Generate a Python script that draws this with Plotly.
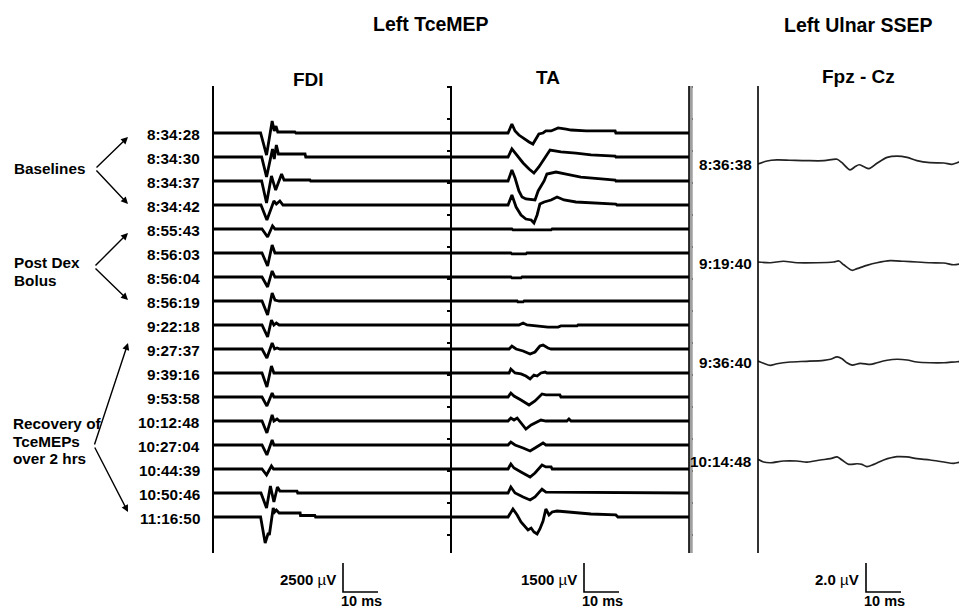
import numpy as np
import plotly.graph_objects as go

# ---------------- data ----------------
mep_times = ["8:34:28", "8:34:30", "8:34:37", "8:34:42", "8:55:43", "8:56:03",
             "8:56:04", "8:56:19", "9:22:18", "9:27:37", "9:39:16", "9:53:58",
             "10:12:48", "10:27:04", "10:44:39", "10:50:46", "11:16:50"]

# FDI traces: time (ms) and amplitude (uV) key points
fdi_ms = [
    [0, 13.6, 15.3, 16.9, 17.5, 18.0, 18.5, 23.4, 23.7, 68],
    [0, 13.9, 15.3, 17.0, 17.5, 18.1, 18.7, 26.3, 26.5, 68],
    [0, 13.9, 15.3, 16.7, 17.9, 19.6, 20.3, 27.7, 27.9, 68],
    [0, 13.7, 15.4, 17.4, 18.1, 19.1, 20.0, 68],
    [0, 14.0, 15.6, 17.0, 17.7, 68],
    [0, 14.0, 15.6, 16.9, 17.7, 68],
    [0, 14.0, 15.6, 16.9, 17.7, 68],
    [0, 14.0, 15.6, 16.9, 17.7, 18.9, 68],
    [0, 14.0, 15.6, 16.7, 17.4, 18.1, 18.9, 68],
    [0, 14.0, 15.4, 16.9, 17.6, 18.3, 19.1, 68],
    [0, 14.0, 15.4, 16.7, 17.4, 68],
    [0, 14.0, 15.4, 16.9, 17.4, 68],
    [0, 14.0, 15.4, 16.9, 17.4, 18.3, 19.0, 68],
    [0, 14.0, 15.4, 16.9, 17.4, 68],
    [0, 14.0, 15.3, 16.7, 17.3, 68],
    [0, 13.7, 15.3, 16.4, 17.4, 18.4, 19.1, 24.0, 24.2, 68],
    [0, 13.6, 14.9, 15.8, 16.1, 17.2, 17.6, 18.1, 18.9, 24.9, 25.0, 29.1, 29.3, 68],
]
fdi_uv = [
    [0, 0, -1900, 1030, 170, 600, 85, 85, 0, 0],
    [0, 0, -1720, 690, -170, 1030, 260, 260, 0, 0],
    [0, 0, -1900, 430, -780, 600, 85, 85, 0, 0],
    [0, 0, -1290, 345, 85, 345, 0, 0],
    [0, 0, -690, 260, 0, 0],
    [0, 0, -1120, 690, 0, 0],
    [0, 0, -860, 520, 0, 0],
    [0, 0, -1210, 690, 85, 0, 0],
    [0, 0, -1030, 430, 0, 170, 0, 0],
    [0, 0, -780, 520, 0, 85, 0, 0],
    [0, 0, -1210, 600, 0, 0],
    [0, 0, -780, 345, 0, 0],
    [0, 0, -1030, 520, 0, 170, 0, 0],
    [0, 0, -860, 430, 0, 0],
    [0, 0, -520, 260, 0, 0],
    [0, 0, -1290, 600, -780, 520, 170, 170, 0, 0],
    [0, 0, -2240, -1380, -1550, 780, 430, 600, 345, 345, 130, 130, 0, 0],
]

# TA traces
ta_ms = [
    [0, 16.3, 17.4, 18.3, 19.4, 20.9, 22.3, 23.4, 24.3, 25.1, 26.3, 27.1, 28.6, 29.7, 30.6, 32.9, 34.3, 38.6, 46.9, 47.1, 68],
    [0, 16.3, 17.4, 18.9, 20.6, 22.3, 23.7, 25.1, 26.6, 28.3, 31.4, 35.7, 40.0, 46.9, 47.1, 68],
    [0, 16.3, 17.4, 18.3, 19.4, 20.3, 21.4, 22.9, 24.0, 24.9, 25.7, 26.6, 27.4, 30.0, 32.9, 37.1, 42.9, 46.9, 47.1, 68],
    [0, 16.3, 17.4, 18.6, 20.0, 21.4, 22.9, 23.7, 24.6, 25.4, 26.6, 28.6, 30.3, 32.3, 35.7, 40.0, 47.1, 47.4, 68],
    [0, 17.4, 17.7, 28.6, 28.9, 68],
    [0, 17.1, 17.4, 21.4, 21.7, 68],
    [0, 17.1, 17.4, 20.0, 20.3, 68],
    [0, 18.9, 19.1, 20.6, 20.9, 68],
    [0, 19.4, 20.6, 21.7, 27.7, 30.6, 31.4, 36.0, 36.3, 68],
    [0, 16.6, 17.4, 18.6, 20.6, 22.6, 24.0, 25.4, 26.3, 27.7, 28.6, 68],
    [0, 16.6, 17.1, 18.3, 20.0, 21.4, 22.6, 23.7, 24.6, 25.7, 26.9, 27.4, 68],
    [0, 16.3, 17.1, 18.0, 20.0, 22.3, 24.0, 25.1, 26.0, 27.1, 31.1, 31.4, 68],
    [0, 16.3, 17.1, 18.0, 18.9, 20.0, 21.4, 22.9, 24.0, 24.9, 25.7, 27.1, 33.1, 33.7, 34.3, 68],
    [0, 16.3, 17.1, 18.3, 20.6, 22.6, 24.0, 25.1, 26.3, 27.1, 68],
    [0, 16.3, 17.1, 18.0, 20.0, 22.6, 24.0, 25.1, 26.0, 27.1, 28.6, 28.9, 68],
    [0, 16.3, 17.1, 18.3, 20.6, 22.6, 24.0, 25.1, 26.0, 27.1, 68],
    [0, 16.3, 17.7, 18.9, 20.0, 21.1, 22.0, 22.9, 23.7, 24.6, 25.4, 26.3, 27.1, 28.0, 28.9, 30.3, 32.9, 35.7, 40.0, 47.1, 47.7, 68],
]
ta_uv = [
    [0, 0, 465, 105, -105, -310, -465, -570, -260, -50, 0, 105, 105, 205, 260, 205, 155, 105, 105, 0, 0],
    [0, 0, 415, 50, -310, -620, -830, -515, -105, 360, 260, 205, 105, 50, 0, 0],
    [0, 0, 570, 155, -515, -830, -930, -980, -980, -515, -260, 0, 360, 465, 360, 205, 105, 50, 0, 0],
    [0, 0, 515, -105, -515, -725, -775, -930, -515, 50, 155, 260, 415, 260, 155, 105, 50, 0, 0],
    [0, 0, -50, -50, 0, 0],
    [0, 0, -50, -50, 0, 0],
    [0, 0, -50, -50, 0, 0],
    [0, 0, -50, -50, 0, 0],
    [0, 0, 105, 0, -105, -105, -50, -50, 0, 0],
    [0, 0, 155, 0, -105, -260, -155, 155, 205, 50, 0, 0],
    [0, 0, 205, 0, -50, -155, -310, -105, -155, 0, 50, 0, 0],
    [0, 0, 205, 50, -155, -415, -205, 0, 155, 105, 105, 0, 0],
    [0, 0, 155, 50, 155, -105, -415, -205, -105, 0, 50, 0, 0, 105, 0, 0],
    [0, 0, 155, 0, -155, -310, -155, -50, 105, 0, 0],
    [0, 0, 260, 50, -155, -415, -205, 0, 205, 105, 105, 0, 0],
    [0, 0, 310, 0, -205, -360, -205, 0, 205, 50, 0],
    [0, 0, 415, 105, -260, -515, -670, -570, -775, -880, -620, -205, 415, 105, 260, 310, 260, 205, 155, 105, 0, 0],
]

ssep_times = ["8:36:38", "9:19:40", "9:36:40", "10:14:48"]
ssep_ms = [
    [0, 2.6, 5.4, 9.1, 14.0, 18.9, 22.6, 24.0, 26.3, 27.7, 28.9, 30.3, 31.7, 34.0, 36.9, 39.7, 42.6, 45.4, 49.1, 53.1, 55.4, 56.9, 58.0],
    [0, 3.5, 7.3, 11.1, 16.9, 21.6, 23.1, 24.5, 26.9, 28.3, 31.1, 34.0, 37.8, 41.6, 45.4, 49.2, 53.1, 55.9, 58.0],
    [0, 1.6, 3.5, 5.4, 9.2, 14.0, 18.8, 20.7, 22.6, 24.0, 25.4, 26.9, 29.2, 32.1, 34.0, 36.9, 39.7, 42.6, 45.4, 49.2, 53.1, 56.9, 58.0],
    [0, 1.6, 3.5, 7.3, 11.1, 14.0, 17.8, 20.7, 22.6, 24.0, 25.9, 28.3, 29.7, 31.1, 33.1, 35.9, 39.7, 42.6, 45.4, 49.2, 53.1, 55.9, 58.0],
]
ssep_uv = [
    [-0.07, 0.14, 0.21, 0.19, 0.16, 0.16, 0.26, 0.02, -0.48, -0.26, -0.12, -0.26, -0.39, -0.02, 0.39, 0.48, 0.39, 0.16, 0.02, 0, -0.09, 0.02, 0.09],
    [0, -0.05, 0.05, -0.05, -0.05, 0, 0.07, -0.19, -0.57, -0.46, -0.23, -0.05, 0.09, 0.05, 0, -0.05, -0.07, -0.19, -0.12],
    [0, -0.16, -0.30, -0.19, -0.07, -0.02, 0.05, 0.12, 0.28, 0.16, -0.12, -0.28, -0.16, -0.23, -0.12, 0.05, 0.12, 0.07, -0.07, -0.12, -0.12, -0.05, -0.05],
    [0.05, -0.14, -0.19, -0.07, -0.07, -0.14, 0, 0.09, 0.21, 0, -0.30, -0.26, -0.30, -0.46, -0.30, 0, 0.23, 0.21, 0.09, 0, -0.14, -0.23, -0.14],
]

scale_uv = [2500, 1500, 2.0]       # FDI, TA, SSEP vertical calibration
scale_ms = 10
scale_uv_text = ["2500", "1500", "2.0"]

# ---------------- layout constants (pixels) ----------------
W, H = 959, 608
PX_PER_MS = 3.5
BAR_PX = 29                      # calibration bar height in px
MEP_ROW0, MEP_STEP = 133, 24
SSEP_ROW0, SSEP_STEP = 163, 99
TOP, BOT = 86, 553
FDI_L, TA_L, TA_R, SS_L = 213, 451, 689, 758

FONT = "Liberation Sans, Arial, sans-serif"

def paper_y(p):
    return 1 - p / H

fig = go.Figure()

panels = [
    dict(xa="x", ya="y", left=FDI_L, right=TA_L, row0=MEP_ROW0, k=BAR_PX / scale_uv[0]),
    dict(xa="x2", ya="y2", left=TA_L, right=TA_R, row0=MEP_ROW0, k=BAR_PX / scale_uv[1]),
    dict(xa="x3", ya="y3", left=SS_L, right=W, row0=SSEP_ROW0, k=BAR_PX / scale_uv[2]),
]

def yval(panel, p):
    return (panel["row0"] - p) / panel["k"]

# MEP traces
for pi, (msl, uvl) in enumerate([(fdi_ms, fdi_uv), (ta_ms, ta_uv)]):
    P = panels[pi]
    step = MEP_STEP / P["k"]
    for i, (t, v) in enumerate(zip(msl, uvl)):
        fig.add_trace(go.Scatter(x=t, y=np.array(v, float) - i * step, mode="lines",
                                 line=dict(color="black", width=2.8),
                                 xaxis=P["xa"], yaxis=P["ya"], showlegend=False,
                                 hoverinfo="skip"))

# SSEP traces
P = panels[2]
step = SSEP_STEP / P["k"]
for i, (t, v) in enumerate(zip(ssep_ms, ssep_uv)):
    fig.add_trace(go.Scatter(x=t, y=np.array(v, float) - i * step, mode="lines",
                             line=dict(color="#222222", width=1.7, shape="spline", smoothing=0.8),
                             xaxis=P["xa"], yaxis=P["ya"], showlegend=False, hoverinfo="skip"))

# calibration bars
bar_corner_px = [(343, 592), (584, 592), (866, 592)]
for P, (cx, cy), suv in zip(panels, bar_corner_px, scale_uv):
    x0 = (cx - P["left"]) / PX_PER_MS
    y0 = yval(P, cy)
    fig.add_trace(go.Scatter(x=[x0, x0, x0 + scale_ms], y=[y0 + suv, y0, y0],
                             mode="lines", line=dict(color="black", width=1.6),
                             xaxis=P["xa"], yaxis=P["ya"], showlegend=False,
                             hoverinfo="skip", cliponaxis=False))

# axes
layout = dict(width=W, height=H, margin=dict(l=0, r=0, t=0, b=0),
              paper_bgcolor="white", plot_bgcolor="white", showlegend=False)
for n, P in enumerate(panels, start=1):
    sfx = "" if n == 1 else str(n)
    width_px = P["right"] - P["left"]
    layout["xaxis" + sfx] = dict(domain=[P["left"] / W, P["right"] / W],
                                 range=[0, width_px / PX_PER_MS], visible=False,
                                 anchor="y" + sfx, fixedrange=True)
    ya = dict(domain=[0, 1], range=[yval(P, H), yval(P, 0)], anchor="x" + sfx,
              showgrid=False, zeroline=False, showticklabels=False, showline=False,
              fixedrange=True)
    if n == 2:
        ya.update(ticks="outside", ticklen=3, tickwidth=2, tickcolor="black",
                  mirror="ticks", tickmode="array",
                  tickvals=[yval(P, 87 + 32 * j) for j in range(15)])
    else:
        ya.update(ticks="")
    layout["yaxis" + sfx] = ya
fig.update_layout(**layout)

# panel lines
shapes = []
for xp, w, c in [(FDI_L, 2, "black"), (TA_L, 2, "black"), (TA_R + 2, 3.5, "#a0a0a0"),
                 (TA_R, 1.6, "black"), (SS_L, 1.6, "black")]:
    shapes.append(dict(type="line", xref="paper", yref="paper", x0=xp / W, x1=xp / W,
                       y0=paper_y(TOP), y1=paper_y(BOT), line=dict(color=c, width=w)))
fig.update_layout(shapes=shapes)

ann = []
def text(x, y, s, size, xanchor="center", yanchor="middle"):
    ann.append(dict(x=x / W, y=paper_y(y), xref="paper", yref="paper", text=s,
                    showarrow=False, xanchor=xanchor, yanchor=yanchor,
                    font=dict(family=FONT, size=size, color="black")))

# titles
text(431, 24, "<b>Left TceMEP</b>", 19.5)
text(858, 25, "<b>Left Ulnar SSEP</b>", 19.5)
text(308, 79, "<b>FDI</b>", 19)
text(548, 78, "<b>TA</b>", 19)
text(858, 76, "<b>Fpz - Cz</b>", 19)

# time labels
for i, s in enumerate(mep_times):
    text(202, MEP_ROW0 + i * MEP_STEP + 1, "<b>%s</b>" % s, 15.3, xanchor="right")
for i, s in enumerate(ssep_times):
    text(754, SSEP_ROW0 + i * SSEP_STEP + 1, "<b>%s</b>" % s, 15.3, xanchor="right")

# group labels
text(12, 168, "<b>Baselines</b>", 15.3, xanchor="left")
text(12, 262, "<b>Post Dex</b>", 15.3, xanchor="left")
text(12, 280, "<b>Bolus</b>", 15.3, xanchor="left")
text(11, 424, "<b>Recovery of</b>", 15.3, xanchor="left")
text(11, 441, "<b>TceMEPs</b>", 15.3, xanchor="left")
text(11, 458, "<b>over 2 hrs</b>", 15.3, xanchor="left")

# arrows: (tip x, tip y, tail x, tail y)
for tx, ty, sx, sy in [(128, 137, 95, 169), (128, 204, 95, 169),
                       (128, 233, 94, 267), (128, 300, 94, 267),
                       (128, 343, 94, 446), (128, 512, 94, 446)]:
    ann.append(dict(x=tx / W, y=paper_y(ty), xref="paper", yref="paper", text="",
                    showarrow=True, ax=sx - tx, ay=sy - ty, arrowhead=2, arrowsize=1,
                    arrowwidth=1.4, arrowcolor="black"))

# calibration labels
for (cx, cy), s in zip(bar_corner_px, scale_uv_text):
    text(cx - 5, 579, "<b>%s </b>µ<b>V</b>" % s, 15, xanchor="right")
    text(cx + 18, 601, "<b>%d ms</b>" % scale_ms, 14.5)

fig.update_layout(annotations=ann)
fig.write_html("out.html", config={"displayModeBar": False, "staticPlot": True},
               post_script="document.body.style.margin='0';document.body.style.overflow='hidden';")
